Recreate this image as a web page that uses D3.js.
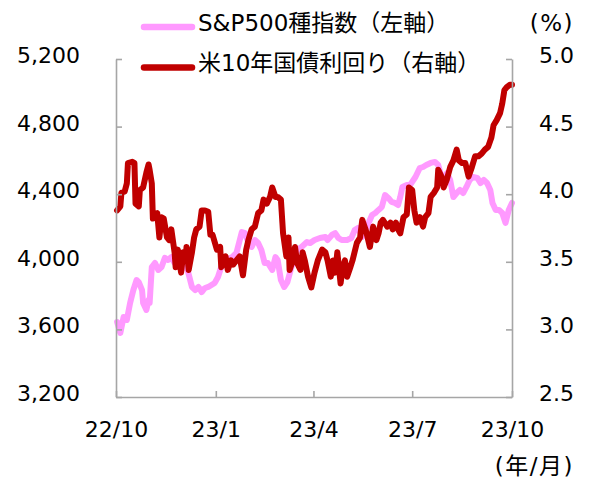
<!DOCTYPE html>
<html>
<head>
<meta charset="utf-8">
<script src="https://cdn.jsdelivr.net/npm/d3@7"></script>
<style>
  html, body { margin: 0; padding: 0; background: #fff; }
  svg { display: block; }
  text { font-family: "DejaVu Sans", "Noto Sans CJK JP", sans-serif; fill: #000; }
</style>
</head>
<body>
<svg id="chart" width="590" height="480"></svg>
<script>
// ---- data ----
const startDate = "2022-10-01";
const endDate = "2023-10-01";
const tickDates = ["2022-10-01", "2023-01-01", "2023-04-01", "2023-07-01", "2023-10-01"];
const tickLabels = ["22/10", "23/1", "23/4", "23/7", "23/10"];
const leftTicks = [3200, 3600, 4000, 4400, 4800, 5200];
const rightTicks = [2.5, 3.0, 3.5, 4.0, 4.5, 5.0];
const seriesNames = ["S&P500種指数（左軸）", "米10年国債利回り（右軸）"];

// S&P500 (day offset from startDate, index value)
const spxDays = [1,4,7,10,13,16,19,21,24,25,28,30,31,33,36,39,42,45,48,51,54,57,61,64,66,70,73,76,79,82,85,88,91,94,97,102,107,111,116,119,122,125,128,131,134,137,140,144,147,149,152,155,158,161,164,167,171,176,179,183,188,193,195,199,202,205,208,213,217,220,223,227,230,232,236,239,242,245,248,251,254,257,260,262,264,268,271,276,280,283,286,290,294,297,299,302,305,308,311,314,317,320,323,326,329,333,336,339,342,345,347,350,353,356,359,362,365];
const spxValues = [3644,3579,3673,3656,3756,3833,3892,3880,3833,3756,3715,3774,3756,3969,3993,3952,3969,4023,4011,4028,3993,4011,3981,3969,3952,3851,3833,3851,3821,3845,3851,3863,3875,3910,3969,4011,4028,4052,4176,4170,4111,4088,4129,4111,4070,3993,3993,3952,4028,4011,3892,3851,3880,3952,4011,4070,4088,4117,4111,4129,4141,4147,4129,4159,4170,4141,4129,4129,4141,4188,4200,4147,4176,4218,4277,4289,4307,4324,4395,4378,4354,4348,4336,4383,4443,4454,4454,4502,4555,4561,4573,4585,4591,4573,4525,4484,4525,4484,4383,4407,4425,4407,4443,4484,4502,4496,4466,4484,4466,4425,4348,4307,4307,4289,4230,4307,4348];

// US 10Y yield (day offset from startDate, %)
const ustDays = [1,4,5,8,10,11,15,17,18,21,22,25,28,30,31,33,34,36,38,40,42,44,47,49,51,54,55,57,60,62,64,65,67,70,72,74,77,79,82,85,87,89,93,96,97,101,103,106,108,111,114,117,120,122,125,128,131,134,136,139,142,144,147,149,152,154,157,159,160,163,165,167,170,172,174,177,180,183,186,190,193,195,198,200,202,204,207,209,211,213,216,218,222,225,227,230,231,234,237,240,242,244,246,250,253,255,258,260,262,265,268,270,273,275,277,280,283,285,288,290,293,296,297,300,302,305,308,311,314,316,319,322,325,328,331,334,337,340,343,346,348,351,354,356,358,360,363,365];
const ustValues = [3.88,3.91,4.01,4.02,4.08,4.23,4.24,4.23,3.93,3.91,4.03,4.05,4.16,4.22,4.18,4.08,3.82,3.85,3.86,3.68,3.83,3.82,3.68,3.66,3.74,3.57,3.46,3.59,3.42,3.57,3.51,3.61,3.44,3.57,3.68,3.74,3.76,3.88,3.88,3.87,3.70,3.70,3.59,3.61,3.46,3.54,3.44,3.51,3.48,3.51,3.54,3.40,3.59,3.66,3.74,3.76,3.86,3.88,3.96,3.93,3.98,4.05,3.98,3.98,3.96,3.71,3.54,3.68,3.44,3.51,3.61,3.49,3.44,3.57,3.51,3.39,3.31,3.42,3.51,3.59,3.57,3.51,3.39,3.51,3.42,3.57,3.34,3.46,3.51,3.39,3.46,3.51,3.64,3.68,3.81,3.74,3.71,3.61,3.76,3.66,3.71,3.79,3.81,3.76,3.79,3.74,3.79,3.74,3.71,3.83,3.85,4.05,4.03,3.88,3.79,3.83,3.76,3.83,3.86,3.98,4.01,4.05,4.18,4.13,4.05,4.11,4.20,4.25,4.33,4.25,4.23,4.23,4.13,4.20,4.28,4.28,4.30,4.33,4.35,4.42,4.51,4.55,4.60,4.67,4.77,4.79,4.81,4.81];

// ---- drawing ----
const svg = d3.select("#chart");
const W = 590, H = 480;
const margin = {left: 116, right: 78, top: 59, bottom: 83};
const x0 = margin.left, x1 = W - margin.right, y0 = margin.top, y1 = H - margin.bottom;

const parse = d3.utcParse("%Y-%m-%d");
const base = parse(startDate);
const x = d3.scaleUtc().domain([base, parse(endDate)]).range([x0, x1]);
const yL = d3.scaleLinear().domain([3200, 5200]).range([y1, y0]);
const yR = d3.scaleLinear().domain([2.5, 5.0]).range([y1, y0]);

const spx = spxDays.map((d, i) => ({date: d3.utcDay.offset(base, d), v: spxValues[i]}));
const ust = ustDays.map((d, i) => ({date: d3.utcDay.offset(base, d), v: ustValues[i]}));

const axisColor = "#a6a6a6";
const pink = "#ff99ff";
const red = "#c00000";
const fs = 22;

// lines
svg.append("path").datum(spx)
  .attr("fill", "none").attr("stroke", pink).attr("stroke-width", 6)
  .attr("stroke-linejoin", "round").attr("stroke-linecap", "round")
  .attr("d", d3.line().x(d => x(d.date)).y(d => yL(d.v)));
svg.append("path").datum(ust)
  .attr("fill", "none").attr("stroke", red).attr("stroke-width", 6)
  .attr("stroke-linejoin", "round").attr("stroke-linecap", "round")
  .attr("d", d3.line().x(d => x(d.date)).y(d => yR(d.v)));

function styleAxis(g) {
  g.attr("font-family", null).attr("font-size", null);
  g.select(".domain").attr("stroke", axisColor).attr("stroke-width", 1.6);
  g.selectAll(".tick line").attr("stroke", axisColor).attr("stroke-width", 1.6);
  g.selectAll(".tick text").attr("font-size", fs).attr("fill", "#000");
}

// left axis
const gL = svg.append("g").attr("transform", `translate(${x0},0)`)
  .call(d3.axisLeft(yL).tickValues(leftTicks).tickFormat(d3.format(",")).tickSizeInner(-6).tickSizeOuter(0).tickPadding(36));
styleAxis(gL);
gL.selectAll(".tick text").attr("dy", "0.16em");

// right axis
const gR = svg.append("g").attr("transform", `translate(${x1},0)`)
  .call(d3.axisRight(yR).tickValues(rightTicks).tickFormat(d3.format(".1f")).tickSizeInner(-6).tickSizeOuter(0).tickPadding(27));
styleAxis(gR);
gR.selectAll(".tick text").attr("dy", "0.16em");

// bottom axis
const gB = svg.append("g").attr("transform", `translate(0,${y1})`)
  .call(d3.axisBottom(x).tickValues(tickDates.map(parse)).tickFormat((d, i) => tickLabels[i]).tickSizeInner(-6).tickSizeOuter(0).tickPadding(24));
styleAxis(gB);

// unit labels
svg.append("text").attr("x", 574).attr("y", 23).attr("dy", "0.35em")
  .attr("text-anchor", "end").attr("font-size", 23).attr("letter-spacing", 1.5).text("(%)");
svg.append("text").attr("x", 574).attr("y", 466).attr("dy", "0.35em")
  .attr("text-anchor", "end").attr("font-size", 23).attr("letter-spacing", 1.5).text("(年/月)");

// legend
const legend = [
  {name: seriesNames[0], color: pink, ly: 27, ty: 23},
  {name: seriesNames[1], color: red, ly: 67.5, ty: 63}
];
legend.forEach(l => {
  svg.append("line").attr("x1", 144).attr("x2", 192).attr("y1", l.ly).attr("y2", l.ly)
    .attr("stroke", l.color).attr("stroke-width", 6.5).attr("stroke-linecap", "round");
  svg.append("text").attr("x", 198).attr("y", l.ty).attr("dy", "0.35em")
    .attr("font-size", 23).text(l.name);
});
</script>
</body>
</html>
